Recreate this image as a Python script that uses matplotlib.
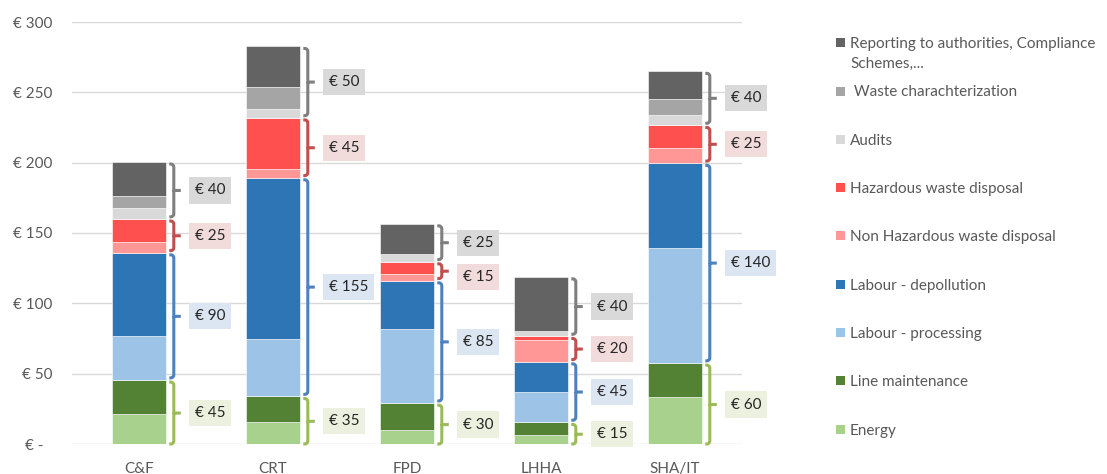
import matplotlib
matplotlib.use("Agg")
import matplotlib.pyplot as plt
from matplotlib.path import Path
from matplotlib.patches import PathPatch, Rectangle
from matplotlib.transforms import ScaledTranslation
import numpy as np

# ---- data (€ per unit) ----
categories = ["C&F", "CRT", "FPD", "LHHA", "SHA/IT"]

energy = [21.5, 15.4, 10.2, 6.4, 33.4]
line_maintenance = [24.0, 18.4, 18.9, 9.0, 24.2]
labour_processing = [31.5, 41.0, 52.6, 21.6, 81.8]
labour_depollution = [59.0, 114.5, 34.4, 21.5, 60.2]
non_hazardous = [7.5, 6.4, 4.5, 15.1, 10.7]
hazardous = [16.5, 36.2, 9.0, 2.9, 16.2]
audits = [7.5, 6.6, 5.6, 4.0, 7.3]
waste_characterization = [8.5, 15.2, 0.0, 0.0, 11.6]
reporting = [24.5, 29.0, 21.4, 38.4, 19.6]

series_names = [
    "Energy",
    "Line maintenance",
    "Labour - processing",
    "Labour - depollution",
    "Non Hazardous waste disposal",
    "Hazardous waste disposal",
    "Audits",
    " Waste charachterization",
    "Reporting to authorities, Compliance\nSchemes,...",
]
series_values = [energy, line_maintenance, labour_processing, labour_depollution,
                 non_hazardous, hazardous, audits, waste_characterization, reporting]
series_colors = ["#a9d18e", "#548235", "#9dc3e6", "#2e75b6",
                 "#ff9797", "#ff5050", "#d9d9d9", "#a5a5a5", "#636363"]

# cost groups shown with braces (series indices, brace colour, box colour)
groups = [
    ([6, 7, 8], "#7f7f7f", "#d9d9d9"),
    ([4, 5], "#c0504d", "#f2dcdb"),
    ([2, 3], "#4f81bd", "#dce6f2"),
    ([0, 1], "#9bbb59", "#ebf1de"),
]

yticks = [0, 50, 100, 150, 200, 250, 300]

FONT = "Lato"
TXT = "#595959"
FS = 11

W, H = 1107, 474
fig = plt.figure(figsize=(W / 100, H / 100), dpi=100)
ax = fig.add_axes([72 / W, (H - 444) / H, (742 - 72) / W, (444 - 22) / H])

x = np.arange(len(categories))
bar_w = 0.4
vals = np.array(series_values)
bottoms = np.vstack([np.zeros(len(categories)), np.cumsum(vals, axis=0)[:-1]])
for i in range(len(series_names)):
    ax.bar(x, vals[i], bar_w, bottom=bottoms[i], color=series_colors[i],
           edgecolor="white", linewidth=0.4, zorder=3)

ax.set_xlim(-0.5, len(categories) - 0.5)
ax.set_ylim(0, 300)
for s in ax.spines.values():
    s.set_visible(False)
ax.set_yticks(yticks)
ax.set_yticklabels([f"€ {v}" if v else "€ -" for v in yticks],
                   fontfamily=FONT, fontsize=FS, color=TXT)
ax.set_xticks(x)
ax.set_xticklabels(categories, fontfamily=FONT, fontsize=FS, color=TXT)
ax.tick_params(axis="both", length=0)
ax.tick_params(axis="y", pad=14)
ax.tick_params(axis="x", pad=13)
ax.grid(axis="y", color="#d9d9d9", linewidth=1.0, zorder=0)
ax.set_axisbelow(True)
# the zero label sits a little further left (accounting format)
zl = ax.get_yticklabels()[0]
zl.set_transform(zl.get_transform() + ScaledTranslation(-0.09, 0, fig.dpi_scale_trans))

# pixel -> data conversion
px = len(categories) / ax.bbox.width
py = 300 / ax.bbox.height

cum = np.cumsum(vals, axis=0)
gap = 34 * py
for c in range(len(categories)):
    r = x[c] + bar_w / 2
    prev_y = None
    for idx, bcol, boxcol in groups:
        lo = bottoms[idx[0]][c]
        hi = cum[idx[-1]][c]
        total = hi - lo
        top = hi - 1.5
        bot = lo + 1.5 if lo > 0 else lo
        mid = (top + bot) / 2
        xa, xv, xn = r + 3.5 * px, r + 8 * px, r + 15 * px
        k = 3 * py
        kx = 3 * px
        verts = [
            (xa, top), (xv - kx, top), (xv, top), (xv, top - k),
            (xv, mid), (xn, mid), (xv, mid),
            (xv, bot + k), (xv, bot), (xv - kx, bot), (xa, bot),
        ]
        codes = [Path.MOVETO, Path.LINETO, Path.CURVE3, Path.CURVE3,
                 Path.LINETO, Path.LINETO, Path.MOVETO,
                 Path.LINETO, Path.CURVE3, Path.CURVE3, Path.LINETO]
        ax.add_patch(PathPatch(Path(verts, codes), fill=False, edgecolor=bcol,
                               linewidth=2.2, capstyle="butt", joinstyle="round",
                               zorder=4, clip_on=False))
        ly = mid if prev_y is None else min(mid, prev_y - gap)
        prev_y = ly
        label = f"€ {int(5 * round(total / 5))}"
        ax.text(r + 29 * px, ly, label, ha="left", va="center",
                fontfamily=FONT, fontsize=FS, color="#262626", zorder=5,
                bbox=dict(boxstyle="square,pad=0.4", facecolor=boxcol,
                          edgecolor="none"))

# legend, top entry first; wrapped names continue on following lines
pitch = 48.3
line_h = 20
for j, i in enumerate(range(len(series_names) - 1, -1, -1)):
    yc = 42.7 + j * pitch
    fig.patches.append(Rectangle((836 / W, 1 - (yc + 4.5) / H), 9 / W, 9 / H,
                                 transform=fig.transFigure, facecolor=series_colors[i],
                                 edgecolor="none"))
    for n, part in enumerate(series_names[i].split("\n")):
        fig.text(850 / W, 1 - (yc + n * line_h) / H, part, ha="left",
                 va="center_baseline", fontfamily=FONT, fontsize=FS, color=TXT)

fig.savefig("out.png", dpi=100, facecolor="white")
